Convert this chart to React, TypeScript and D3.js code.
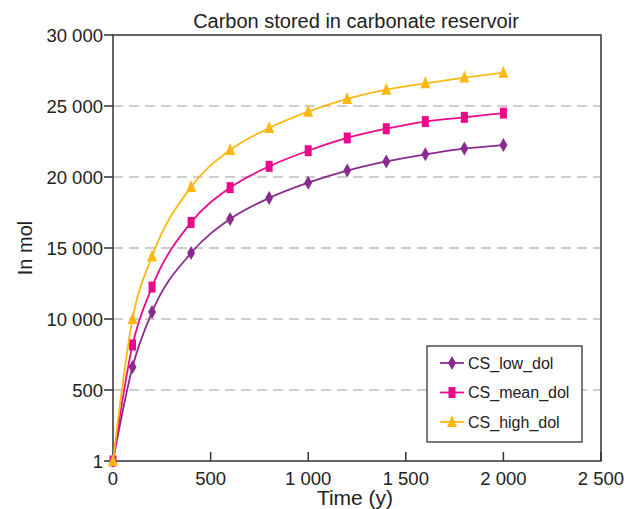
import React from "react";
import * as d3 from "d3";

const years = [0, 100, 200, 400, 600, 800, 1000, 1200, 1400, 1600, 1800, 2000];
const csLow = [0, 6620, 10490, 14650, 17040, 18520, 19600, 20450, 21100, 21600, 22000, 22250];
const csMean = [0, 8170, 12250, 16800, 19250, 20750, 21850, 22750, 23400, 23900, 24200, 24500];
const csHigh = [0, 10000, 14400, 19300, 21900, 23450, 24600, 25500, 26150, 26600, 27000, 27350];

const yTickValues = [0, 5000, 10000, 15000, 20000, 25000, 30000];
const yTickLabels = ["1", "500", "10 000", "15 000", "20 000", "25 000", "30 000"];
const xTickValues = [0, 500, 1000, 1500, 2000, 2500];
const xTickLabels = ["0", "500", "1 000", "1 500", "2 000", "2 500"];

const seriesNames = ["CS_low_dol", "CS_mean_dol", "CS_high_dol"];
const seriesColors = ["#8a2b8e", "#ec0a8c", "#fdb913"];
const seriesMarkers = ["diamond", "square", "triangle"];

const W = 634, H = 509;
const L = 113, R = 601, T = 35, B = 461;
const font = "'Liberation Sans', Arial, Helvetica, sans-serif";

function Marker({ type, x, y, color }: { type: string; x: number; y: number; color: string }) {
  if (type === "diamond") {
    return <path d={`M${x},${y - 7} L${x + 4},${y} L${x},${y + 7} L${x - 4},${y} Z`} fill={color} />;
  }
  if (type === "square") {
    return <rect x={x - 3.5} y={y - 5.5} width={7} height={11} fill={color} />;
  }
  return <path d={`M${x},${y - 7} L${x + 5},${y + 5} L${x - 5},${y + 5} Z`} fill={color} />;
}

export default function App() {
  const x = d3.scaleLinear().domain([0, 2500]).range([L, R]);
  const y = d3.scaleLinear().domain([0, 30000]).range([B, T]);
  const data = [csLow, csMean, csHigh];
  const line = d3
    .line<number>()
    .x((_, i) => x(years[i]))
    .y((d) => y(d))
    .curve(d3.curveMonotoneX);

  return (
    <svg width={W} height={H} style={{ display: "block", position: "absolute", left: 0, top: 0 }} fontFamily={font}>
      <rect x={0} y={0} width={W} height={H} fill="#fff" />
      {/* grid */}
      {yTickValues.slice(1, -1).map((v) => (
        <line key={v} x1={L} x2={R} y1={y(v)} y2={y(v)} stroke="#bdbdbd" strokeWidth={1.3} strokeDasharray="10,6" />
      ))}
      {/* frame */}
      <rect x={L} y={T} width={R - L} height={B - T} fill="none" stroke="#333" strokeWidth={1.5} />
      {/* y ticks */}
      {yTickValues.map((v, i) => (
        <g key={v}>
          <line x1={L - 9} x2={L} y1={y(v)} y2={y(v)} stroke="#333" strokeWidth={1.5} />
          <text x={103} y={y(v) + 7} textAnchor="end" fontSize={18.5} fill="#222">
            {yTickLabels[i]}
          </text>
        </g>
      ))}
      {/* x ticks */}
      {xTickValues.map((v, i) => (
        <g key={v}>
          <line x1={x(v)} x2={x(v)} y1={B} y2={B - 9} stroke="#333" strokeWidth={1.5} />
          <text x={x(v)} y={485} textAnchor="middle" fontSize={18.5} fill="#222">
            {xTickLabels[i]}
          </text>
        </g>
      ))}
      {/* series */}
      {data.map((vals, s) => (
        <g key={s}>
          <path d={line(vals) || ""} fill="none" stroke={seriesColors[s]} strokeWidth={1.8} />
          {vals.map((v, i) => (
            <Marker key={i} type={seriesMarkers[s]} x={x(years[i])} y={y(v)} color={seriesColors[s]} />
          ))}
        </g>
      ))}
      {/* title & labels */}
      <text x={356} y={28} textAnchor="middle" fontSize={20} fill="#222">
        Carbon stored in carbonate reservoir
      </text>
      <text x={355} y={505} textAnchor="middle" fontSize={21} fill="#222">
        Time (y)
      </text>
      <text transform={`translate(32,248) rotate(-90)`} textAnchor="middle" fontSize={20} fill="#222">
        In mol
      </text>
      {/* legend */}
      <rect x={427} y={346} width={155} height={96} fill="#fff" stroke="#333" strokeWidth={1.3} />
      {seriesNames.map((n, i) => {
        const ly = 363 + i * 29.5;
        return (
          <g key={n}>
            <line x1={440} x2={464} y1={ly} y2={ly} stroke={seriesColors[i]} strokeWidth={1.8} />
            <Marker type={seriesMarkers[i]} x={452} y={ly} color={seriesColors[i]} />
            <text x={468} y={ly + 5.5} fontSize={16} fill="#222">
              {n}
            </text>
          </g>
        );
      })}
    </svg>
  );
}
